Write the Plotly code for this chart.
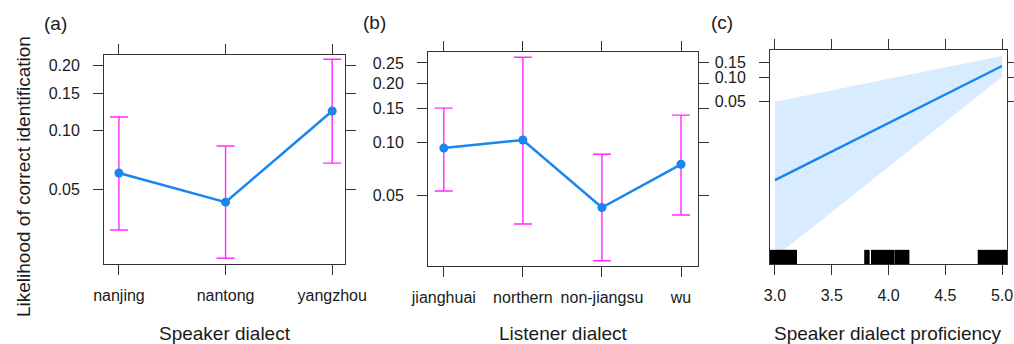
import numpy as np
import plotly.graph_objects as go

# ---------------- data ----------------
speaker = ["nanjing", "nantong", "yangzhou"]
speaker_fit = [0.061, 0.0432, 0.1235]
speaker_lower = [0.0309, 0.0219, 0.0685]
speaker_upper = [0.1157, 0.0834, 0.212]

listener = ["jianghuai", "northern", "non-jiangsu", "wu"]
listener_fit = [0.0927, 0.1026, 0.0428, 0.0754]
listener_lower = [0.0533, 0.0344, 0.0209, 0.0388]
listener_upper = [0.151, 0.265, 0.0857, 0.139]

proficiency = [3.0, 3.5, 4.0, 4.5, 5.0]
prof_fit = [0.00447, 0.0108, 0.0259, 0.0610, 0.1366]
prof_lower = [0.000405, 0.00166, 0.00669, 0.0269, 0.1007]
prof_upper = [0.0493, 0.0690, 0.0956, 0.1315, 0.178]

rug_values = [2.97, 2.99, 3.01, 3.03, 3.05, 3.07, 3.09, 3.11, 3.13, 3.15, 3.17, 3.18,
              3.80, 3.82, 3.86, 3.88, 3.90, 3.92, 3.94, 3.96, 3.98, 4.00, 4.02, 4.04,
              4.07, 4.09, 4.11, 4.13, 4.15, 4.17,
              4.80, 4.82, 4.84, 4.86, 4.88, 4.90, 4.92, 4.94, 4.96, 4.98, 5.00, 5.02, 5.03]

ticks_a = [0.05, 0.10, 0.15, 0.20]
ticks_b = [0.05, 0.10, 0.15, 0.20, 0.25]
ticks_c = [0.05, 0.10, 0.15]
ticks_cx = [3.0, 3.5, 4.0, 4.5, 5.0]


def logit(p):
    p = np.asarray(p, dtype=float)
    return np.log(p / (1 - p))


# ---------------- style ----------------
W, H = 1014, 344
FONT = "Liberation Sans, Arial, Helvetica, sans-serif"
TXT = "#1a1a1a"
AXC = "#333333"
BLUE = "#1a84f0"
MAG = "#ff2bff"
BAND = "rgba(0,128,255,0.15)"


def fx(px):
    return px / W


def fy(py):
    return 1 - py / H


fig = go.Figure()


def cat_panel(cats, fit, lo, hi, xa, ya):
    f = logit(fit)
    l = logit(lo)
    h = logit(hi)
    fig.add_trace(go.Scatter(
        x=cats, y=f, mode="lines+markers", xaxis=xa, yaxis=ya,
        line=dict(color=BLUE, width=2.5),
        marker=dict(color=BLUE, size=9),
        error_y=dict(type="data", symmetric=False, array=h - f, arrayminus=f - l,
                     color=MAG, thickness=1.4, width=9),
        showlegend=False, hoverinfo="skip"))


cat_panel(speaker, speaker_fit, speaker_lower, speaker_upper, "x", "y")
cat_panel(listener, listener_fit, listener_lower, listener_upper, "x2", "y2")

# panel c band and line
fig.add_trace(go.Scatter(x=proficiency, y=logit(prof_lower), mode="lines",
                         line=dict(width=0, color=BAND), xaxis="x3", yaxis="y3",
                         showlegend=False, hoverinfo="skip"))
fig.add_trace(go.Scatter(x=proficiency, y=logit(prof_upper), mode="lines",
                         line=dict(width=0, color=BAND), fill="tonexty", fillcolor=BAND,
                         xaxis="x3", yaxis="y3", showlegend=False, hoverinfo="skip"))
fig.add_trace(go.Scatter(x=proficiency, y=logit(prof_fit), mode="lines",
                         line=dict(width=2.5, color=BLUE), xaxis="x3", yaxis="y3",
                         showlegend=False, hoverinfo="skip"))

# rug
for v in rug_values:
    fig.add_shape(type="line", xref="x3", yref="y3 domain", x0=v, x1=v, y0=0, y1=0.066,
                  line=dict(color="black", width=3.2), layer="above")

tickfont = dict(family=FONT, size=16, color=TXT)
common = dict(showline=True, linecolor=AXC, linewidth=1, mirror="allticks",
              ticks="outside", ticklen=10, tickwidth=1, tickcolor=AXC,
              showgrid=False, zeroline=False, tickfont=tickfont, fixedrange=True,
              automargin=False)
xcommon = dict(common, ticklabelstandoff=7)
ycommon = dict(common, ticklabelstandoff=10)

fig.update_layout(
    width=W, height=H, margin=dict(l=0, r=0, t=0, b=0, autoexpand=False),
    paper_bgcolor="white", plot_bgcolor="white",
    font=dict(family=FONT, color=TXT),
    xaxis=dict(domain=[fx(104), fx(345)], anchor="y", type="category",
               range=[-0.14, 2.12], **xcommon),
    yaxis=dict(domain=[fy(264), fy(55)], anchor="x", range=[-3.87, -1.26],
               tickvals=list(logit(ticks_a)), ticktext=[f"{t:.2f}" for t in ticks_a], **ycommon),
    xaxis2=dict(domain=[fx(428), fx(698)], anchor="y2", type="category",
                range=[-0.2, 3.215], **xcommon),
    yaxis2=dict(domain=[fy(266), fy(52)], anchor="x2", range=[-3.919, -0.947],
                tickvals=list(logit(ticks_b)), ticktext=[f"{t:.2f}" for t in ticks_b], **ycommon),
    xaxis3=dict(domain=[fx(770), fx(1007)], anchor="y3", range=[2.956, 5.044],
                tickvals=ticks_cx, ticktext=[f"{t:.1f}" for t in ticks_cx], **xcommon),
    yaxis3=dict(domain=[fy(264), fy(50)], anchor="x3", range=[-8.03, -1.344],
                tickvals=list(logit(ticks_c)), ticktext=[f"{t:.2f}" for t in ticks_c], **ycommon),
)

ann_font = dict(family=FONT, size=19, color=TXT)
annotations = [
    dict(text="(a)", x=fx(55), y=fy(23)),
    dict(text="(b)", x=fx(374), y=fy(22)),
    dict(text="(c)", x=fx(722), y=fy(22)),
    dict(text="Speaker dialect", x=fx(225), y=fy(333)),
    dict(text="Listener dialect", x=fx(563), y=fy(333)),
    dict(text="Speaker dialect proficiency", x=fx(888), y=fy(333)),
    dict(text="Likelihood of correct identification", x=fx(23), y=fy(177), textangle=-90),
]
for a in annotations:
    fig.add_annotation(xref="paper", yref="paper", showarrow=False,
                       xanchor="center", yanchor="middle", font=ann_font, **a)

fig.write_html("out.html", config={"displayModeBar": False},
               post_script="document.body.style.margin='0px';")
